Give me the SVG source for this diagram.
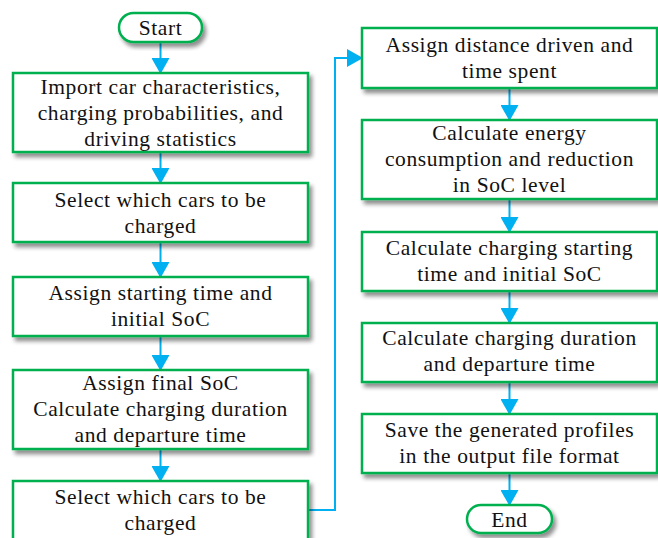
<svg xmlns="http://www.w3.org/2000/svg" width="658" height="538" viewBox="0 0 658 538">
<defs>
<filter id="sh" x="-10%" y="-10%" width="130%" height="140%">
<feGaussianBlur in="SourceAlpha" stdDeviation="2"/>
<feOffset dx="3" dy="4" result="b"/>
<feComponentTransfer><feFuncA type="linear" slope="0.45"/></feComponentTransfer>
<feMerge><feMergeNode/><feMergeNode in="SourceGraphic"/></feMerge>
</filter>
<marker id="ah2" markerWidth="16" markerHeight="18" refX="15" refY="9" orient="auto" markerUnits="userSpaceOnUse" viewBox="0 0 16 18">
<path d="M0,0 L16,9 L0,18 z" fill="#00B0F0"/>
</marker>
</defs>
<style>
.box{fill:#fff;stroke:#00B050;stroke-width:2.5;filter:url(#sh)}
.t{font-family:"Liberation Serif","Times New Roman",serif;font-size:21.5px;letter-spacing:0.6px;fill:#111;text-anchor:middle}
.c{fill:none;stroke:#00B0F0;stroke-width:2;marker-end:url(#ah2)}
</style>
<rect width="658" height="538" fill="#fff"/>
<g id="connectors">
<path class="c" d="M160.5,42 V73"/>
<path class="c" d="M160.5,152 V183"/>
<path class="c" d="M160.5,242 V277"/>
<path class="c" d="M160.5,336 V370"/>
<path class="c" d="M160.5,449 V481"/>
<path class="c" d="M308,510 H335 V58 H362"/>
<path class="c" d="M509.5,88 V120"/>
<path class="c" d="M509.5,199 V232"/>
<path class="c" d="M509.5,291 V323"/>
<path class="c" d="M509.5,382 V414"/>
<path class="c" d="M509.5,473 V505"/>
</g>
<g id="start"><rect class="box" x="119" y="13" width="83" height="29" rx="14.5"/><text class="t" x="160.5" y="35">Start</text></g>
<g id="import"><rect class="box" x="13" y="73" width="295" height="79"/><text class="t" x="160.5" y="94">Import car characteristics,</text><text class="t" x="160.5" y="120">charging probabilities, and</text><text class="t" x="160.5" y="146">driving statistics</text></g>
<g id="select1"><rect class="box" x="13" y="183" width="295" height="59"/><text class="t" x="160.5" y="207">Select which cars to be</text><text class="t" x="160.5" y="233">charged</text></g>
<g id="assignStart"><rect class="box" x="13" y="277" width="295" height="59"/><text class="t" x="160.5" y="300">Assign starting time and</text><text class="t" x="160.5" y="326">initial SoC</text></g>
<g id="assignFinal"><rect class="box" x="13" y="370" width="295" height="79"/><text class="t" x="160.5" y="390">Assign final SoC</text><text class="t" x="160.5" y="416">Calculate charging duration</text><text class="t" x="160.5" y="442">and departure time</text></g>
<g id="select2"><rect class="box" x="13" y="481" width="295" height="70"/><text class="t" x="160.5" y="504">Select which cars to be</text><text class="t" x="160.5" y="530">charged</text></g>
<g id="assignDist"><rect class="box" x="362" y="28" width="295" height="60"/><text class="t" x="509.5" y="52">Assign distance driven and</text><text class="t" x="509.5" y="78">time spent</text></g>
<g id="calcEnergy"><rect class="box" x="362" y="120" width="295" height="79"/><text class="t" x="509.5" y="140">Calculate energy</text><text class="t" x="509.5" y="166">consumption and reduction</text><text class="t" x="509.5" y="192">in SoC level</text></g>
<g id="calcStart"><rect class="box" x="362" y="232" width="295" height="59"/><text class="t" x="509.5" y="255">Calculate charging starting</text><text class="t" x="509.5" y="281">time and initial SoC</text></g>
<g id="calcDur"><rect class="box" x="362" y="323" width="295" height="59"/><text class="t" x="509.5" y="345">Calculate charging duration</text><text class="t" x="509.5" y="371">and departure time</text></g>
<g id="save"><rect class="box" x="362" y="414" width="295" height="59"/><text class="t" x="509.5" y="437">Save the generated profiles</text><text class="t" x="509.5" y="463">in the output file format</text></g>
<g id="end"><rect class="box" x="467" y="505" width="85" height="28" rx="14"/><text class="t" x="509.5" y="527">End</text></g>
</svg>
